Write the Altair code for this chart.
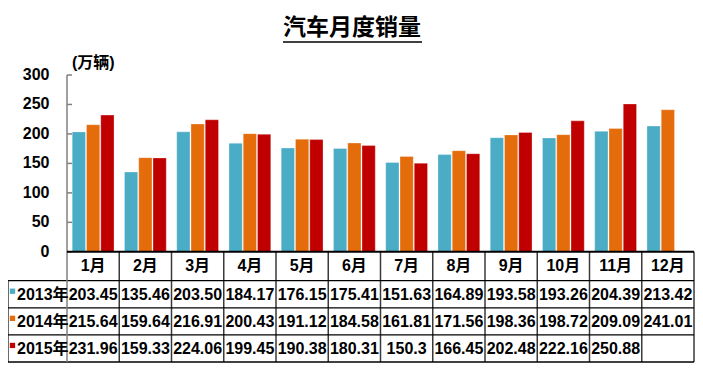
import altair as alt
import pandas as pd

# ---------------- data ----------------
months = ["1月", "2月", "3月", "4月", "5月", "6月", "7月", "8月", "9月", "10月", "11月", "12月"]
years = ["2013年", "2014年", "2015年"]
sales_2013 = ["203.45", "135.46", "203.50", "184.17", "176.15", "175.41",
              "151.63", "164.89", "193.58", "193.26", "204.39", "213.42"]
sales_2014 = ["215.64", "159.64", "216.91", "200.43", "191.12", "184.58",
              "161.81", "171.56", "198.36", "198.72", "209.09", "241.01"]
sales_2015 = ["231.96", "159.33", "224.06", "199.45", "190.38", "180.31",
              "150.3", "166.45", "202.48", "222.16", "250.88", ""]
colors = ["#4BACC6", "#E46C0A", "#C00000"]
y_ticks = [0, 50, 100, 150, 200, 250, 300]
title_text = "汽车月度销量"
unit_text = "(万辆)"

# ---------------- layout ----------------
PAD_LEFT = 59               # row-label column lives in the left padding
PLOT_W, PLOT_H = 627, 287
n = len(months)
PX_PER_X = PLOT_W / n
LABEL_COL = PAD_LEFT / PX_PER_X
HEADER_H, ROW_H = 49, 46    # table rows, in y units
Y_TOP = 300
Y_BOTTOM = -(HEADER_H + 3 * ROW_H)
BAR_STEP, BAR_W = 0.273, 0.254
TICK_LEN = 5 / PX_PER_X

FONT = "Liberation Sans, Noto Sans CJK SC, sans-serif"
LINE = "#3a3a3a"

series = [sales_2013, sales_2014, sales_2015]

bar_rows, val_rows, lab_rows = [], [], []
for k, (yr, vals) in enumerate(zip(years, series)):
    yc = -(HEADER_H + (k + 0.5) * ROW_H)
    lab_rows.append({"year": yr, "x": -LABEL_COL, "y": yc})
    for i, v in enumerate(vals):
        val_rows.append({"x": i + 0.5, "y": yc, "t": v})
        if v:
            c = i + 0.5 + (k - 1) * BAR_STEP
            bar_rows.append({"year": yr, "month": months[i], "x": c - BAR_W / 2,
                             "x2": c + BAR_W / 2, "value": float(v)})
bars_df = pd.DataFrame(bar_rows)
vals_df = pd.DataFrame(val_rows)
labs_df = pd.DataFrame(lab_rows)
head_df = pd.DataFrame({"x": [i + 0.5 for i in range(n)], "y": [-HEADER_H / 2] * n, "t": months})

vlines = [{"x": -LABEL_COL, "y": -HEADER_H, "y2": Y_BOTTOM}] + \
         [{"x": float(i), "y": 0, "y2": Y_BOTTOM} for i in range(1, n + 1)]
hlines = [{"y": -(HEADER_H + j * ROW_H), "x": -LABEL_COL, "x2": float(n)} for j in range(4)]
vl_df = pd.DataFrame(vlines)
hl_df = pd.DataFrame(hlines)
yaxis_df = pd.DataFrame({"x": [0.0], "y": [Y_TOP], "y2": [Y_BOTTOM]})
xaxis_df = pd.DataFrame({"x": [0.0], "x2": [float(n)], "y": [0]})
ticks_df = pd.DataFrame({"y": y_ticks, "x": [0.0] * len(y_ticks),
                         "x2": [TICK_LEN] * len(y_ticks), "t": [str(v) for v in y_ticks]})
unit_df = pd.DataFrame({"x": [0.0], "y": [Y_TOP], "t": [unit_text]})

XS = alt.Scale(domain=[0, n], nice=False, zero=False)
YS = alt.Scale(domain=[Y_BOTTOM, Y_TOP], nice=False, zero=False)


def xq(field="x"):
    return alt.X(f"{field}:Q", scale=XS, axis=None)


def yq(field="y"):
    return alt.Y(f"{field}:Q", scale=YS, axis=None)


color_enc = alt.Color("year:N", scale=alt.Scale(domain=years, range=colors), legend=None)

bars = alt.Chart(bars_df).mark_bar(stroke="white", strokeWidth=0.6, strokeOpacity=0.5).encode(
    x=xq(), x2="x2:Q", y=yq("value"), y2=alt.datum(0), color=color_enc)

vrules = alt.Chart(vl_df).mark_rule(color=LINE, strokeWidth=1.5).encode(
    x=xq(), y=yq(), y2="y2:Q")

hrules = alt.Chart(hl_df).mark_rule(color="black", strokeWidth=1.3).encode(
    x=xq(), x2="x2:Q", y=yq())

yline = alt.Chart(yaxis_df).mark_rule(color="#808080", strokeWidth=1.5).encode(
    x=xq(), y=yq(), y2="y2:Q")

yticks = alt.Chart(ticks_df).mark_rule(color="#808080", strokeWidth=1.5).encode(
    x=xq(), x2="x2:Q", y=yq())

xline = alt.Chart(xaxis_df).mark_rule(color="black", strokeWidth=2).encode(
    x=xq(), x2="x2:Q", y=yq())

txt_style = dict(font=FONT, fontSize=16, fontWeight="bold", color="black", baseline="middle")

ylabels = alt.Chart(ticks_df).mark_text(align="right", dx=-17.5, **txt_style).encode(
    x=xq(), y=yq(), text="t:N")

unit = alt.Chart(unit_df).mark_text(font=FONT, fontSize=16, fontWeight="bold", color="black",
                                    align="left", baseline="alphabetic", dx=5, dy=-7).encode(
    x=xq(), y=yq(), text="t:N")

head = alt.Chart(head_df).mark_text(**txt_style).encode(x=xq(), y=yq(), text="t:N")

vals = alt.Chart(vals_df).mark_text(dy=1, **txt_style).encode(x=xq(), y=yq(), text="t:N")

labs = alt.Chart(labs_df).mark_text(align="left", dx=9, dy=1, **txt_style).encode(
    x=xq(), y=yq(), text="year:N")

squares = alt.Chart(labs_df).mark_square(size=28, opacity=1, xOffset=4.5, yOffset=-3).encode(
    x=xq(), y=yq(), color=color_enc)

underline = alt.Chart(pd.DataFrame({"a": [0]})).mark_rule(color="black", strokeWidth=1.5).encode(
    x=alt.value(216), x2=alt.value(355), y=alt.value(-33))

chart = alt.layer(bars, vrules, hrules, yline, yticks, xline, ylabels, unit, head, vals, labs,
                  squares, underline).properties(
    width=PLOT_W, height=PLOT_H,
    title=alt.TitleParams(title_text, font="Noto Sans CJK SC", fontSize=23, fontWeight="bold",
                          anchor="start", frame="group", offset=1, dx=216, color="black"),
    autosize=alt.AutoSizeParams(type="none"),
    padding={"left": PAD_LEFT, "top": 67, "right": 1, "bottom": 1},
).configure_view(stroke=None)

chart.save("out.html", embed_options={"renderer": "svg", "actions": False})
